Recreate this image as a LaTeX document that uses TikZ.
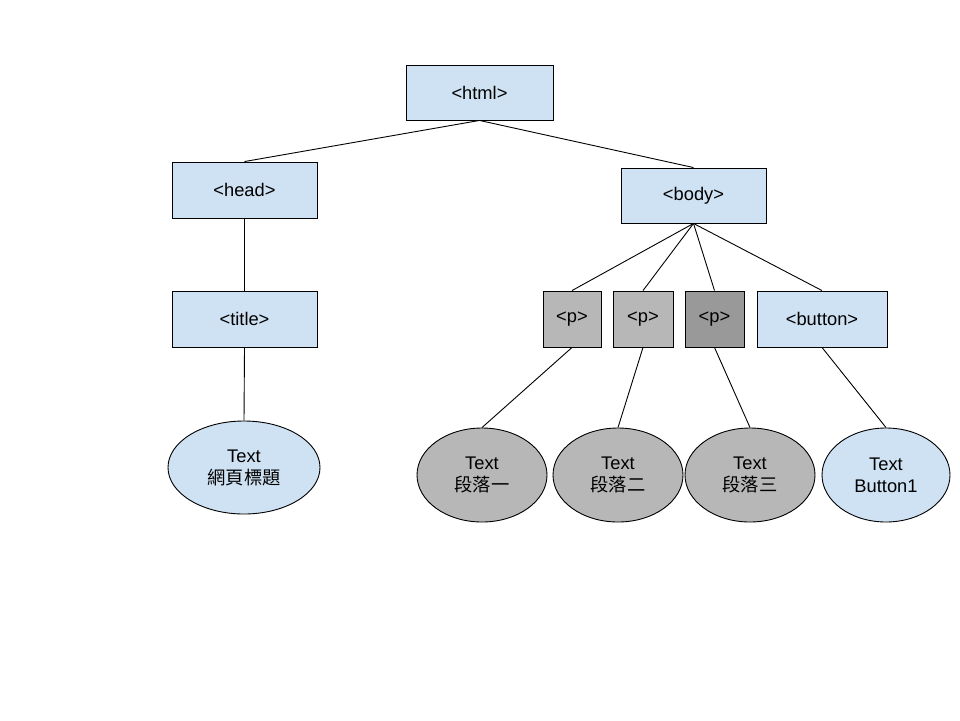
\documentclass[tikz,border=0pt]{standalone}
\usepackage{fontspec}
\setmainfont{Liberation Sans}
\newfontfamily\cjk{Noto Sans CJK TC}
\usetikzlibrary{shapes.geometric}
\definecolor{lblue}{HTML}{CFE2F3}
\definecolor{lgrey}{HTML}{B7B7B7}
\definecolor{dgrey}{HTML}{999999}
\begin{document}
\begin{tikzpicture}[x=1pt,y=-1pt,
  every node/.style={font=\fontsize{18.3}{22}\selectfont, align=center, inner sep=0pt},
  tagbox/.style={draw=black, line width=0.9pt, fill=lblue, minimum height=56pt},
  pbox/.style={draw=black, line width=0.9pt, fill=lgrey, minimum height=56pt},
  txt/.style={ellipse, draw=black, line width=0.9pt, minimum width=130pt, minimum height=94pt},
  edge/.style={line width=0.9pt}]
\useasboundingbox (0,0) rectangle (960,720);
\fill[white] (0,0) rectangle (960,720);
\node[tagbox, minimum width=147pt, minimum height=55pt] (html) at (479.5,92.5) {<html>};
\node[tagbox, minimum width=145pt] (head) at (244.5,190) {<head>};
\node[tagbox, minimum width=145pt, minimum height=55pt] (body) at (693.5,195.5) {<body>};
\node[tagbox, minimum width=145pt] (title) at (244.5,319) {<title>};
\node[pbox, minimum width=58pt] (p1) at (572,319) {<p>};
\node[pbox, minimum width=60pt] (p2) at (643,319) {<p>};
\node[pbox, fill=dgrey, minimum width=59pt] (p3) at (714.5,319) {<p>};
\node[tagbox, minimum width=130pt] (button) at (822,319) {<button>};
\node[txt, fill=lblue, minimum width=152pt, minimum height=93pt] (t0) at (244,467.5) {Text\\{\cjk 網頁標題}};
\node[txt, fill=lgrey] (t1) at (482,475) {Text\\{\cjk 段落一}};
\node[txt, fill=lgrey] (t2) at (618,475) {Text\\{\cjk 段落二}};
\node[txt, fill=lgrey] (t3) at (750,475) {Text\\{\cjk 段落三}};
\node[txt, fill=lblue, minimum width=128pt] (t4) at (886,475) {Text\\Button1};
\draw[edge] (html.south) -- (head.north);
\draw[edge] (html.south) -- (body.north);
\draw[edge] (head.south) -- (title.north);
\draw[edge] (title.south) -- (t0.north);
\draw[edge] (body.south) -- (p1.north);
\draw[edge] (body.south) -- (p2.north);
\draw[edge] (body.south) -- (p3.north);
\draw[edge] (body.south) -- (button.north);
\draw[edge] (p1.south) -- (t1.north);
\draw[edge] (p2.south) -- (t2.north);
\draw[edge] (p3.south) -- (t3.north);
\draw[edge] (button.south) -- (t4.north);
\end{tikzpicture}
\end{document}
